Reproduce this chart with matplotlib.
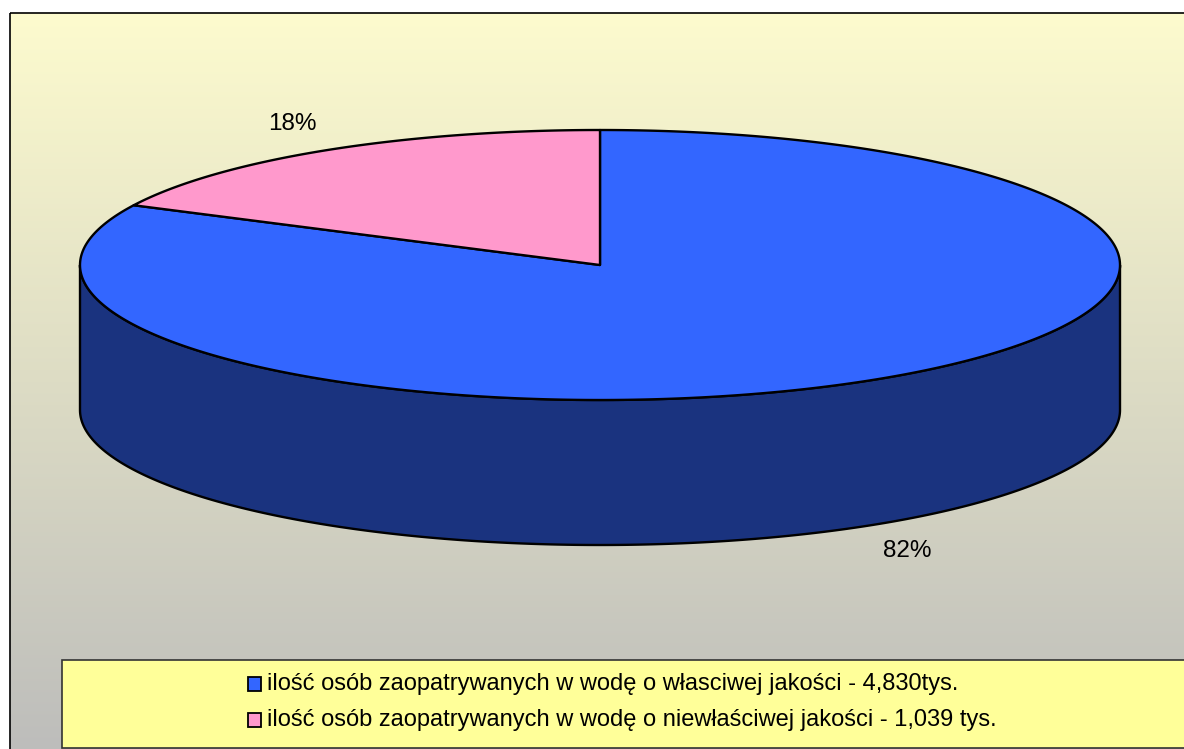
import numpy as np
import matplotlib.pyplot as plt
from matplotlib.patches import Polygon, Rectangle

plt.rcParams['font.family'] = ['Liberation Sans', 'DejaVu Sans']

labels = ["ilość osób zaopatrywanych w wodę o własciwej jakości - 4,830tys.",
          "ilość osób zaopatrywanych w wodę o niewłaściwej jakości - 1,039 tys."]
values = [4830, 1039]
top_colors = ["#3366FF", "#FF99CC"]
side_colors = ["#1A337F", "#7F4C66"]

W, H = 1184, 749
fig = plt.figure(figsize=(W / 100, H / 100), dpi=100)
ax = fig.add_axes([0, 0, 1, 1])
ax.set_xlim(0, W)
ax.set_ylim(H, 0)
ax.axis('off')

# background gradient of chart area
g = np.linspace(0, 1, 256)
c_top = np.array([253, 251, 206]) / 255
c_bot = np.array([189, 189, 187]) / 255
img = c_top[None, :] * (1 - g[:, None]) + c_bot[None, :] * g[:, None]
ax.imshow(img[:, None, :], extent=[10, W + 5, H + 2, 13], aspect='auto', zorder=0)
ax.add_patch(Rectangle((10, 13), W, H, fill=False, ec='black', lw=1.2, zorder=1))

# pie geometry
cx, cy, rx, ry, depth = 600, 265, 520, 135, 145
total = sum(values)
fracs = [v / total for v in values]


def ept(t, dy=0):
    t = np.radians(t)
    return cx + rx * np.cos(t), cy - ry * np.sin(t) + dy


start = 90.0
angles = []
for f in fracs:
    end = start - 360 * f
    angles.append((end, start))
    start = end

# sides (front half only)
for (a0, a1), sc in zip(angles, side_colors):
    ts = np.linspace(a0, a1, 800)
    vis = np.sin(np.radians(ts)) <= 0
    if not vis.any():
        continue
    idx = np.where(vis)[0]
    runs = np.split(idx, np.where(np.diff(idx) > 1)[0] + 1)
    for r in runs:
        tt = ts[r]
        xs, ys = ept(tt)
        xb, yb = ept(tt[::-1], depth)
        poly = np.column_stack([np.concatenate([xs, xb]), np.concatenate([ys, yb])])
        ax.add_patch(Polygon(poly, closed=True, fc=sc, ec='black', lw=1.7,
                             joinstyle='round', zorder=2))

# tops
for (a0, a1), tc in zip(angles, top_colors):
    tt = np.linspace(a0, a1, 600)
    xs, ys = ept(tt)
    poly = np.column_stack([np.concatenate([[cx], xs]), np.concatenate([[cy], ys])])
    ax.add_patch(Polygon(poly, closed=True, fc=tc, ec='black', lw=1.7,
                         joinstyle='round', zorder=3))

# percentage labels
for (a0, a1), v in zip(angles, values):
    m = np.radians((a0 + a1) / 2)
    lx = cx + (rx + 62) * np.cos(m)
    s = np.sin(m)
    ly = cy - (ry + 31) * s + (depth if s < 0 else 0)
    ax.text(lx, ly, f"{round(100 * v / total)}%", fontsize=17.5,
            ha='center', va='center', zorder=4)

# legend
ax.add_patch(Rectangle((62, 660), W, 88, fc='#FFFF99', ec='#333333', lw=1.2, zorder=5))
row_y = [684, 720]
for lab, tc, yy in zip(labels, top_colors, row_y):
    ax.add_patch(Rectangle((248, yy - 7), 13, 14, fc=tc, ec='black', lw=1.3, zorder=6))
    ax.text(267, yy, lab, fontsize=17, ha='left', va='center', zorder=6)

fig.savefig('out.png', dpi=100)
